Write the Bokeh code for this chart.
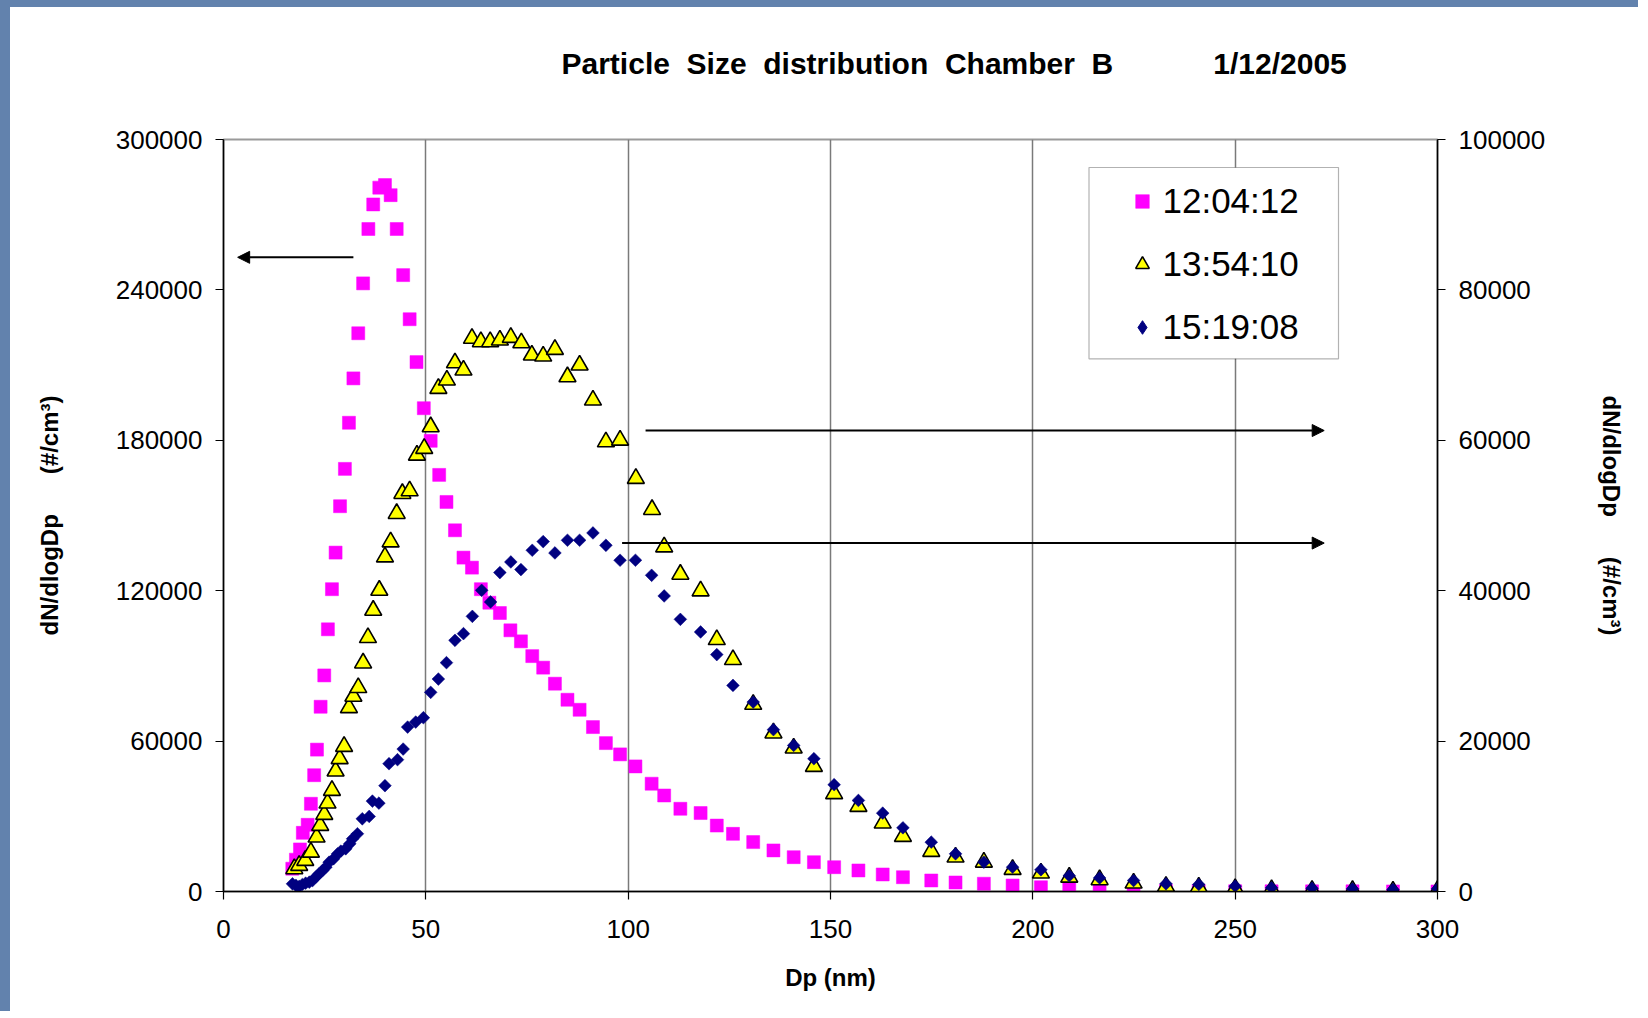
import math
from bokeh.plotting import figure
from bokeh.models import (Range1d, LinearAxis, SingleIntervalTicker, NumeralTickFormatter,
                          Legend, LegendItem, Label, Arrow, NormalHead, BoxAnnotation, Title)
from bokeh.embed import file_html
from bokeh.resources import INLINE

FONT = "Liberation Sans"

title_words = ["Particle", "Size", "distribution", "Chamber", "B"]
date_text = "1/12/2005"
series_names = ["12:04:12", "13:54:10", "15:19:08"]

# 12:04:12 (left axis)
dp_1204 = [17.0, 17.9, 18.9, 19.6, 20.8, 21.6, 22.4, 23.1, 24.0, 24.9,
           25.8, 26.8, 27.7, 28.8, 30.0, 31.0, 32.1, 33.3, 34.5, 35.8,
           37.0, 38.5, 39.9, 41.3, 42.8, 44.4, 46.0, 47.7, 49.5, 51.2,
           53.3, 55.1, 57.2, 59.3, 61.4, 63.6, 65.7, 68.3, 70.9, 73.5,
           76.3, 79.0, 81.9, 85.0, 88.0, 91.3, 94.5, 98.0, 101.8, 105.8,
           108.9, 112.9, 117.9, 121.9, 125.9, 130.9, 135.9, 140.9, 145.9, 150.9,
           156.9, 162.9, 167.9, 174.9, 180.9, 187.9, 195.0, 202.0, 209.0, 216.5,
           224.9, 232.9, 241.0, 250.0, 259.0, 269.0, 279.0, 289.0, 300.0]
n_1204 = [9100, 12700, 16800, 23400, 26600, 35000, 46400, 56600, 73700, 86200,
          104600, 120600, 135200, 153700, 168600, 187000, 204700, 222700, 242600, 264300,
          274100, 280800, 281800, 277800, 264300, 245900, 228300, 211200, 192800, 179800,
          166200, 155400, 144100, 133200, 129200, 120600, 115200, 111100, 104200, 99800,
          93900, 89300, 82900, 76500, 72500, 65600, 59200, 54700, 49900, 43000,
          38300, 33000, 31300, 26300, 23000, 19700, 16400, 13700, 11700, 9700,
          8400, 6800, 5700, 4400, 3600, 3100, 2400, 1700, 1200, 700,
          400, 250, 150, 100, 80, 60, 50, 40, 30]

# 13:54:10 (right axis)
dp_1354 = [17.5, 18.7, 20.2, 21.6, 23.0, 23.9, 24.9, 25.7, 26.8, 27.7,
           28.7, 29.8, 31.0, 32.1, 33.3, 34.5, 35.7, 37.0, 38.5, 39.9,
           41.3, 42.8, 44.2, 46.0, 47.8, 49.6, 51.2, 53.1, 55.2, 57.2,
           59.3, 61.4, 63.6, 65.9, 68.3, 71.0, 73.6, 76.2, 79.0, 81.9,
           85.0, 88.0, 91.3, 94.5, 98.0, 101.9, 105.9, 108.9, 112.9, 117.9,
           121.9, 125.9, 130.9, 135.9, 140.9, 145.9, 150.9, 156.9, 162.9, 167.9,
           174.9, 180.9, 187.9, 195.0, 202.0, 209.0, 216.5, 224.9, 232.9, 241.0,
           250.0, 259.0, 269.0, 279.0, 289.0, 300.0]
n_1354 = [3020, 3460, 4130, 5230, 7230, 8780, 10250, 11750, 13440, 16010,
          17660, 19290, 24440, 25950, 27110, 30380, 33760, 37390, 40050, 44490,
          46480, 50260, 52920, 53270, 58020, 58910, 61790, 66890, 68000, 70300,
          69330, 73550, 73100, 73100, 73320, 73680, 72960, 71330, 71190, 72080,
          68440, 70000, 65340, 59790, 60010, 54920, 50790, 45820, 42180, 39960,
          33490, 30830, 24880, 21070, 19070, 16630, 13000, 11310, 9090, 7320,
          5320, 4570, 3900, 2930, 2440, 1900, 1560, 1110, 670, 570,
          360, 230, 130, 130, 40, 130]

# 15:19:08 (right axis)
dp_1519 = [17.05, 17.9, 18.7, 19.5, 20.3, 21.2, 22.0, 22.8, 23.6, 24.5,
           25.3, 26.1, 27.2, 28.2, 29.0, 30.2, 31.2, 31.9, 33.1, 34.3,
           36.0, 36.8, 38.4, 39.9, 40.9, 43.0, 44.4, 45.5, 47.5, 49.4,
           51.2, 53.1, 55.1, 57.2, 59.3, 61.5, 63.8, 66.0, 68.3, 71.0,
           73.5, 76.3, 79.0, 81.9, 85.0, 88.0, 91.3, 94.5, 98.0, 101.8,
           105.8, 108.9, 112.9, 117.9, 121.9, 125.9, 130.9, 135.9, 140.9, 145.9,
           150.9, 156.9, 162.9, 167.9, 174.9, 180.9, 187.9, 195.0, 202.0, 209.0,
           216.5, 224.9, 232.9, 241.0, 250.0, 259.0, 269.0, 279.0, 289.0, 300.0]
n_1519 = [1020, 800, 670, 930, 1110, 1240, 1460, 1910, 2350, 2790,
          3240, 3900, 4350, 5010, 5360, 5680, 6340, 7010, 7680, 9670,
          9980, 12020, 11750, 14070, 16990, 17530, 18940, 21860, 22530, 23110,
          26480, 28250, 30430, 33400, 34290, 36590, 40050, 38500, 42410, 43820,
          42810, 45380, 46530, 45020, 46710, 46710, 47680, 46040, 44050, 44050,
          42050, 39300, 36190, 34510, 31500, 27410, 25190, 21520, 19430, 17660,
          14200, 12110, 10420, 8470, 6560, 5010, 3900, 3240, 2890, 2100,
          1800, 1460, 1020, 930, 710, 490, 440, 360, 270, 360]

# arrows (x_start, x_end, y on left axis)
arrow_left = (32.1, 3.5, 253000)
arrow_right_1 = (104.3, 272.0, 183900)
arrow_right_2 = (98.5, 272.0, 139000)

# the slide's blue edge (left 10 px, top 7 px) is a CSS border round the figure;
# Bokeh measures the element with its border, so the nominal size is reduced by it
OX, OY = 10, 7
CW, CH = 1648 - OX, 1018 - OY          # drawing area actually wanted
FL, FR, FT, FB = 223 - OX, 211, 139 - OY, 127
NB = "\u00a0"

p = figure(width=CW - OX, height=CH - OY, x_range=Range1d(0, 300), y_range=Range1d(0, 300000),
           output_backend="svg", toolbar_location=None, title=None,
           min_border_left=FL, min_border_right=FR, min_border_top=FT, min_border_bottom=FB,
           styles={"border-left": "10px solid #6282ad", "border-top": "7px solid #6282ad",
                   "box-sizing": "content-box", "overflow": "visible"})
p.extra_y_ranges = {"right": Range1d(0, 100000)}
p.background_fill_color = "white"
p.border_fill_color = "white"
p.outline_line_color = "#9a9a9a"
p.outline_line_width = 2

# spacer next to the plot area, then the title line above it
p.add_layout(Title(text=NB, standoff=55, text_font_size="1px"), "above")
full_title = (NB * 2).join(title_words) + NB * 12 + date_text
p.add_layout(Title(text=full_title, align="left", offset=338, vertical_align="top",
                   standoff=0, text_font=FONT, text_font_size="30px",
                   text_font_style="bold", text_color="black"), "above")

p.ygrid.visible = False
p.xgrid.grid_line_color = "#7a7a7a"
p.xgrid.grid_line_width = 1.5
p.xaxis.ticker = SingleIntervalTicker(interval=50)
p.yaxis.ticker = SingleIntervalTicker(interval=60000)
p.yaxis.formatter = NumeralTickFormatter(format="0")

raxis = LinearAxis(y_range_name="right", ticker=SingleIntervalTicker(interval=20000),
                   formatter=NumeralTickFormatter(format="0"))
p.add_layout(raxis, "right")

for ax in [p.xaxis[0], p.yaxis[0], raxis]:
    ax.axis_line_color = "black"
    ax.axis_line_width = 1.5
    ax.major_tick_line_color = "black"
    ax.major_tick_line_width = 1.2
    ax.major_tick_out = 8
    ax.major_tick_in = 0
    ax.minor_tick_line_color = None
    ax.major_label_text_font = FONT
    ax.major_label_text_font_size = "26px"
    ax.major_label_text_color = "black"
    ax.major_label_standoff = 13
    ax.axis_label_text_font = FONT
    ax.axis_label_text_font_size = "24px"
    ax.axis_label_text_font_style = "bold"
    ax.axis_label_text_color = "black"

p.xaxis.axis_label = "Dp (nm)"
p.xaxis.major_label_standoff = 20
p.xaxis.axis_label_standoff = 23
p.yaxis.axis_label = "dN/dlogDp" + NB * 6 + "(#/cm\u00b3)"
p.yaxis.axis_label_standoff = 50

r1 = p.scatter(dp_1204, n_1204, marker="square", size=13, fill_color="#FF00FF",
               line_color="#FF00FF", line_width=0.5)
r2 = p.scatter(dp_1354, n_1354, y_range_name="right", marker="triangle", size=17,
               fill_color="#FFFF00", line_color="black", line_width=1.6)
# legend swatch for the diamond series: its first point, drawn small under the real mark
r3_key = p.scatter(dp_1519[:1], n_1519[:1], y_range_name="right", marker="diamond", size=5,
                   fill_color="#000080", line_color="#000080", line_width=1)
r3 = p.scatter(dp_1519, n_1519, y_range_name="right", marker="square", angle=math.pi / 4,
               size=9, fill_color="#000080", line_color="#000080", line_width=0.5)

for xs, xe, yv in [arrow_left, arrow_right_1, arrow_right_2]:
    p.add_layout(Arrow(end=NormalHead(size=12, fill_color="black", line_color="black", line_width=1),
                       x_start=xs, y_start=yv, x_end=xe, y_end=yv,
                       line_color="black", line_width=2))

# legend frame (page pixels: left, right, top, bottom)
LB_L, LB_R, LB_T, LB_B = 1088.5, 1338, 167, 358.3
FRAME_LEFT_PAGE, FRAME_BOTTOM_PAGE = 223, 891
p.add_layout(BoxAnnotation(left=LB_L - FRAME_LEFT_PAGE, right=LB_R - FRAME_LEFT_PAGE,
                           top=FRAME_BOTTOM_PAGE - LB_T, bottom=FRAME_BOTTOM_PAGE - LB_B,
                           left_units="screen", right_units="screen",
                           top_units="screen", bottom_units="screen",
                           fill_color="white", fill_alpha=1, line_color="black", line_width=1.2))

legend = Legend(items=[LegendItem(label=series_names[0], renderers=[r1]),
                       LegendItem(label=series_names[1], renderers=[r2]),
                       LegendItem(label=series_names[2], renderers=[r3_key])],
                location=(LB_L - FRAME_LEFT_PAGE, FRAME_BOTTOM_PAGE - 382.7),
                orientation="vertical", glyph_width=34, glyph_height=40, label_height=40,
                label_standoff=4, spacing=23, padding=36, margin=0,
                border_line_alpha=0, background_fill_alpha=0,
                label_text_font=FONT, label_text_font_size="35px", label_text_color="black")
p.add_layout(legend)

# right-hand axis title, in two pieces, reading upward like the left one
for piece, cy in [("dN/dlogDp", 566), ("(#/cm\u00b3)", 440)]:
    p.add_layout(Label(x=1623 - FRAME_LEFT_PAGE, y=FRAME_BOTTOM_PAGE - cy,
                       x_units="screen", y_units="screen",
                       text=piece, angle=math.pi / 2,
                       text_align="center", text_baseline="middle", text_font=FONT,
                       text_font_size="25px", text_font_style="bold", text_color="black"))

open("out.html", "w").write(file_html(p, INLINE))
